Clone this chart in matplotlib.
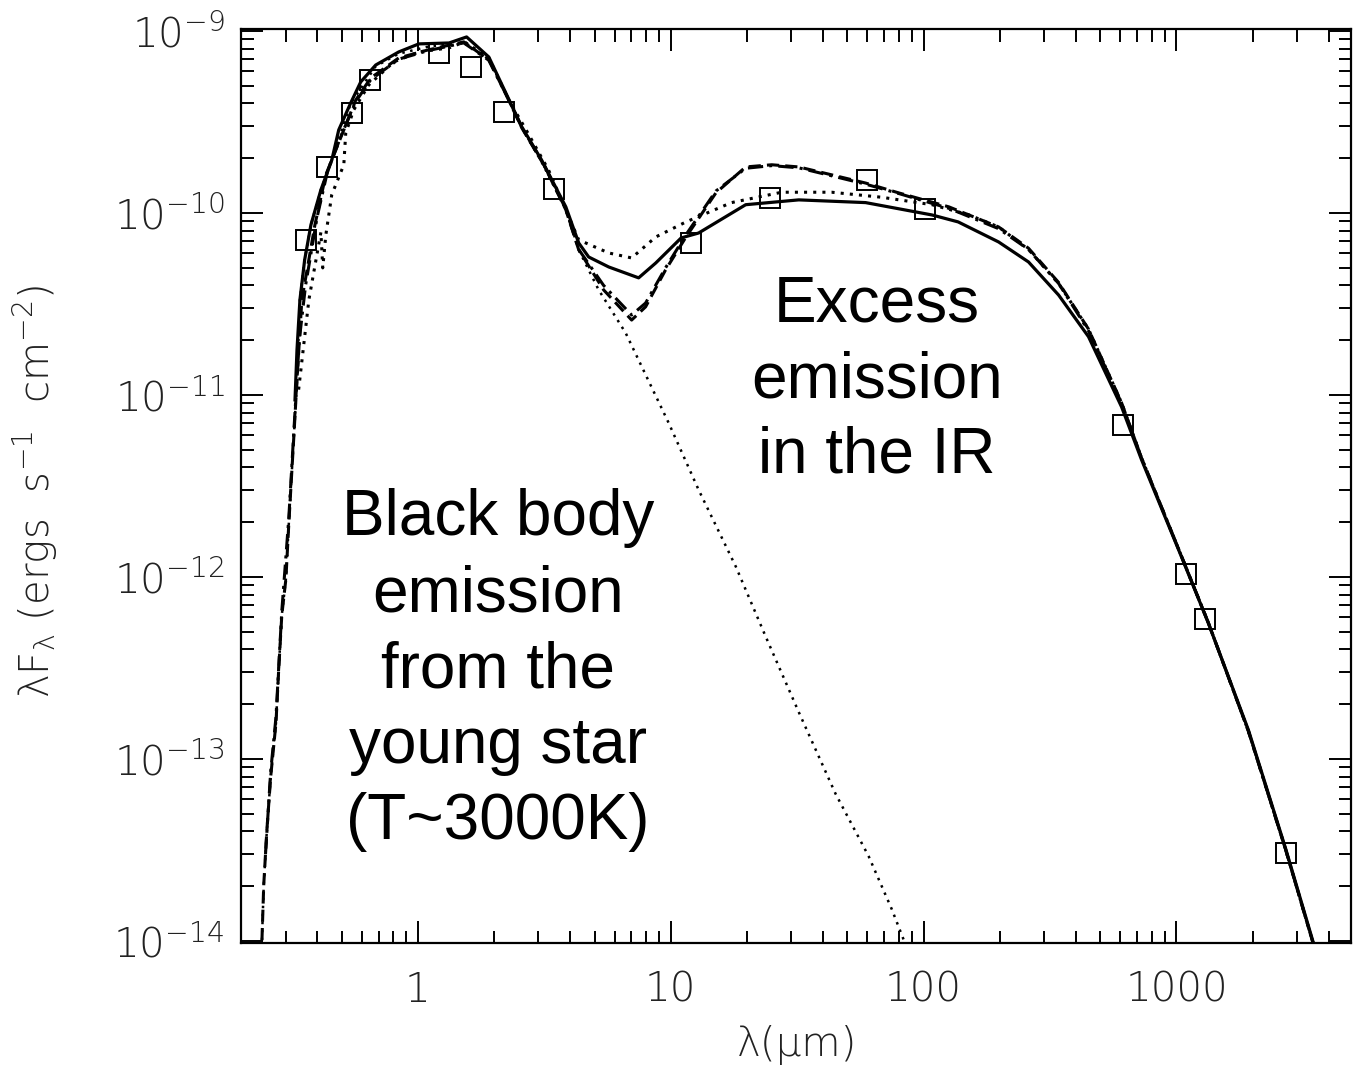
import matplotlib
matplotlib.use('Agg')
import matplotlib.pyplot as plt
import matplotlib.ticker as mticker
import numpy as np

plt.rcParams['font.family'] = ['DejaVu Sans']
plt.rcParams['font.weight'] = 'light'
plt.rcParams['mathtext.fontset'] = 'custom'
plt.rcParams['mathtext.rm'] = 'DejaVu Sans:light'
plt.rcParams['mathtext.default'] = 'rm'

# observed photometry (micron, erg/s/cm^2)
obs_wl = [0.361, 0.437, 0.548, 0.646, 1.21, 1.62, 2.19, 3.45, 12.0, 24.6,
          59.5, 101, 612, 1086, 1302, 2700]
obs_flux = [7.1e-11, 1.79e-10, 3.54e-10, 5.38e-10, 7.57e-10, 6.34e-10, 3.59e-10,
            1.36e-10, 6.84e-11, 1.21e-10, 1.52e-10, 1.05e-10, 6.84e-12, 1.04e-12,
            5.88e-13, 3.05e-14]

# model 1 (solid)
m1_wl = [0.327, 0.333, 0.342, 0.357, 0.378, 0.414, 0.457, 0.487, 0.543, 0.595,
         0.682, 0.841, 1.01, 1.33, 1.56, 1.91, 2.23, 2.58, 3.09, 3.85, 4.33,
         4.74, 5.69, 7.47, 8.73, 11.0, 12.9, 19.8, 32.1, 59.0, 108, 137, 198,
         260, 342, 449, 607, 728, 1047, 1337, 1926, 2698, 3480]
m1_flux = [9.4e-12, 1.77e-11, 3.33e-11, 5.52e-11, 8.6e-11, 1.34e-10, 1.95e-10,
           2.86e-10, 4.02e-10, 5.25e-10, 6.50e-10, 7.67e-10, 8.49e-10, 8.59e-10,
           9.27e-10, 7.19e-10, 4.56e-10, 2.97e-10, 1.95e-10, 1.08e-10, 6.84e-11,
           5.73e-11, 5.05e-11, 4.40e-11, 5.31e-11, 7.29e-11, 7.76e-11, 1.11e-10,
           1.18e-10, 1.14e-10, 9.75e-11, 8.93e-11, 6.93e-11, 5.38e-11, 3.54e-11,
           2.09e-11, 8.59e-12, 4.40e-12, 1.29e-12, 5.58e-13, 1.44e-13, 3.24e-14,
           9.75e-15]

# model 2 (dotted)
m2_wl = [0.338, 0.371, 0.399, 0.414, 0.421, 0.433, 0.457, 0.510, 0.519, 0.558,
         0.640, 0.804, 1.01, 1.33, 1.53, 1.91, 2.29, 2.75, 3.29, 3.85, 4.33,
         5.69, 7.01, 8.73, 11.5, 17.4, 27.5, 43.3, 68.2, 108, 150, 198, 260,
         342, 449, 607, 728, 1047, 1337, 1926, 2698, 3480]
m2_flux = [1.07e-11, 3.33e-11, 5.88e-11, 7.84e-11, 4.99e-11, 7.57e-11, 1.26e-10,
           1.84e-10, 2.75e-10, 3.68e-10, 5.05e-10, 6.76e-10, 7.67e-10, 8.07e-10,
           8.71e-10, 7.11e-10, 4.18e-10, 2.69e-10, 1.72e-10, 1.04e-10, 7.11e-11,
           6.03e-11, 5.66e-11, 7.38e-11, 8.93e-11, 1.14e-10, 1.30e-10, 1.30e-10,
           1.22e-10, 1.11e-10, 9.8e-11, 8.38e-11, 6.3e-11, 4.1e-11, 2.3e-11,
           9.04e-12, 4.5e-12, 1.3e-12, 5.6e-13, 1.42e-13, 3.2e-14, 9.6e-15]

# model 3 (dashed)
m3_wl = [0.242, 0.246, 0.253, 0.262, 0.275, 0.282, 0.290, 0.301, 0.309, 0.324,
         0.333, 0.348, 0.392, 0.433, 0.510, 0.569, 0.652, 0.841, 1.10, 1.52,
         1.91, 2.23, 2.58, 3.15, 3.85, 4.33, 5.43, 7.01, 7.96, 9.55, 11.5,
         15.1, 19.8, 25.1, 32.1, 43.3, 59.0, 79.6, 126, 198, 260, 342, 449,
         607, 728, 1047, 1337, 1926, 2698, 3480]
m3_flux = [1.01e-14, 2.03e-14, 4.02e-14, 7.96e-14, 1.58e-13, 3.13e-13, 6.18e-13,
           9.75e-13, 1.95e-12, 6.11e-12, 1.21e-11, 3.33e-11, 8.6e-11, 1.62e-10,
           2.86e-10, 4.18e-10, 5.52e-10, 7.11e-10, 7.87e-10, 8.71e-10, 6.93e-10,
           4.50e-10, 2.93e-10, 1.84e-10, 1.04e-10, 6.27e-11, 3.78e-11, 2.58e-11,
           3.05e-11, 4.87e-11, 7.38e-11, 1.29e-10, 1.79e-10, 1.84e-10, 1.79e-10,
           1.62e-10, 1.46e-10, 1.29e-10, 1.08e-10, 8.38e-11, 6.4e-11, 4.15e-11,
           2.3e-11, 9.04e-12, 4.5e-12, 1.3e-12, 5.6e-13, 1.42e-13, 3.2e-14, 9.6e-15]

# model 4 (dash-dot)
m4_wl = [0.250, 0.262, 0.275, 0.290, 0.309, 0.324, 0.340, 0.360, 0.400, 0.440,
         0.500, 0.569, 0.652, 0.841, 1.10, 1.52, 1.91, 2.23, 2.58, 3.15, 3.85,
         4.33, 5.43, 7.01, 7.96, 9.55, 11.5, 15.1, 19.8, 25.1, 32.1, 43.3, 59.0,
         79.6, 126, 198, 260, 342, 449, 607, 728, 1047, 1337, 1926, 2698, 3480]
m4_flux = [3.0e-14, 8.5e-14, 1.7e-13, 6.5e-13, 2.1e-12, 6.5e-12, 2.0e-11, 4.0e-11,
           9.5e-11, 1.7e-10, 2.7e-10, 4.1e-10, 5.4e-10, 7.0e-10, 7.8e-10, 8.6e-10,
           6.9e-10, 4.5e-10, 2.95e-10, 1.85e-10, 1.05e-10, 6.3e-11, 4.0e-11,
           2.75e-11, 3.2e-11, 5.0e-11, 7.6e-11, 1.32e-10, 1.76e-10, 1.82e-10,
           1.77e-10, 1.60e-10, 1.44e-10, 1.28e-10, 1.06e-10, 8.2e-11, 6.3e-11,
           4.1e-11, 2.25e-11, 9.0e-12, 4.5e-12, 1.3e-12, 5.6e-13, 1.42e-13,
           3.2e-14, 9.6e-15]

# stellar photosphere, T ~ 3000 K
bb_wl = [0.242, 0.246, 0.253, 0.262, 0.275, 0.282, 0.290, 0.301, 0.309, 0.324,
         0.333, 0.342, 0.357, 0.378, 0.414, 0.457, 0.543, 0.682, 0.841, 1.10,
         1.52, 1.91, 2.23, 2.58, 3.09, 3.85, 4.33, 5.19, 6.64, 9.82, 12.9, 18.1,
         23.7, 32.1, 44.9, 60.6, 74.8, 81.8, 85.0]
bb_flux = [1.01e-14, 2.03e-14, 4.02e-14, 7.96e-14, 1.58e-13, 3.13e-13, 6.18e-13,
           9.75e-13, 1.95e-12, 6.11e-12, 1.21e-11, 3.33e-11, 5.52e-11, 8.6e-11,
           1.34e-10, 1.95e-10, 4.0e-10, 6.4e-10, 7.5e-10, 8.2e-10, 8.6e-10,
           7.0e-10, 4.5e-10, 2.95e-10, 1.9e-10, 1.05e-10, 6.27e-11, 3.78e-11,
           2.19e-11, 7.02e-12, 3.01e-12, 1.14e-12, 4.74e-13, 1.81e-13, 6.43e-14,
           2.93e-14, 1.50e-14, 1.09e-14, 0.95e-14]

x_ticks = [1, 10, 100, 1000]
x_ticklabels = ['1', '10', '100', '1000']
y_ticks = [1e-14, 1e-13, 1e-12, 1e-11, 1e-10, 1e-9]
y_ticklabels = ['$10^{-14}$', '$10^{-13}$', '$10^{-12}$', '$10^{-11}$',
                '$10^{-10}$', '$10^{-9}$']

W, H = 1353, 1065
fig = plt.figure(figsize=(W / 100, H / 100), dpi=100)
ax = fig.add_axes([241 / W, 1 - 943 / H, (1351 - 241) / W, (943 - 29) / H])

ax.plot(bb_wl, bb_flux, color='black', lw=1.8, ls=(0, (1, 2.2)))
ax.plot(m4_wl, m4_flux, color='black', lw=2.2, ls=(0, (5, 2, 1, 2)))
ax.plot(m3_wl, m3_flux, color='black', lw=2.2, ls=(0, (4, 2)))
ax.plot(m2_wl, m2_flux, color='black', lw=2.2, ls=(0, (1, 2)))
ax.plot(m1_wl, m1_flux, color='black', lw=2.3, ls='-')
ax.plot(obs_wl, obs_flux, ls='none', marker='s', ms=14, mfc='none',
        mec='black', mew=1.4)

ax.set_xscale('log')
ax.set_yscale('log')
ax.set_xlim(0.2, 4900)
ax.set_ylim(0.975e-14, 1.025e-9)

ax.xaxis.set_major_locator(mticker.FixedLocator(x_ticks))
ax.xaxis.set_major_formatter(mticker.FixedFormatter(x_ticklabels))
ax.yaxis.set_major_locator(mticker.FixedLocator(y_ticks))
ax.yaxis.set_major_formatter(mticker.FixedFormatter(y_ticklabels))
ax.xaxis.set_minor_locator(mticker.LogLocator(base=10, subs=np.arange(2, 10)))
ax.yaxis.set_minor_locator(mticker.LogLocator(base=10, subs=np.arange(2, 10)))
ax.xaxis.set_minor_formatter(mticker.NullFormatter())
ax.yaxis.set_minor_formatter(mticker.NullFormatter())

ax.tick_params(which='both', direction='in', top=True, right=True,
               width=1.4, colors='black', labelcolor='#222222', labelsize=29)
ax.tick_params(which='major', length=16)
ax.tick_params(which='minor', length=9)
ax.tick_params(axis='x', which='major', pad=20)
ax.tick_params(axis='y', which='major', pad=12)
for s in ax.spines.values():
    s.set_linewidth(1.6)

fig.text(797 / W, 1 - 1045 / H, 'λ(μm)', ha='center', va='center',
         fontsize=29, color='#222222')
fig.text(35 / W, 1 - 491 / H, 'λF$_λ$ (ergs  s$^{-1}$  cm$^{-2}$)', ha='center',
         va='center', rotation=90, fontsize=29, color='#222222')

fig.text(877 / W, 1 - 380 / H, 'Excess\nemission\nin the IR', ha='center',
         va='center', multialignment='center', fontsize=46,
         family='Liberation Sans', weight='normal', linespacing=1.34)
fig.text(498 / W, 1 - 670 / H, 'Black body\nemission\nfrom the\nyoung star\n(T~3000K)',
         ha='center', va='center', multialignment='center', fontsize=46,
         family='Liberation Sans', weight='normal', linespacing=1.34)

fig.savefig('out.png', dpi=100)
